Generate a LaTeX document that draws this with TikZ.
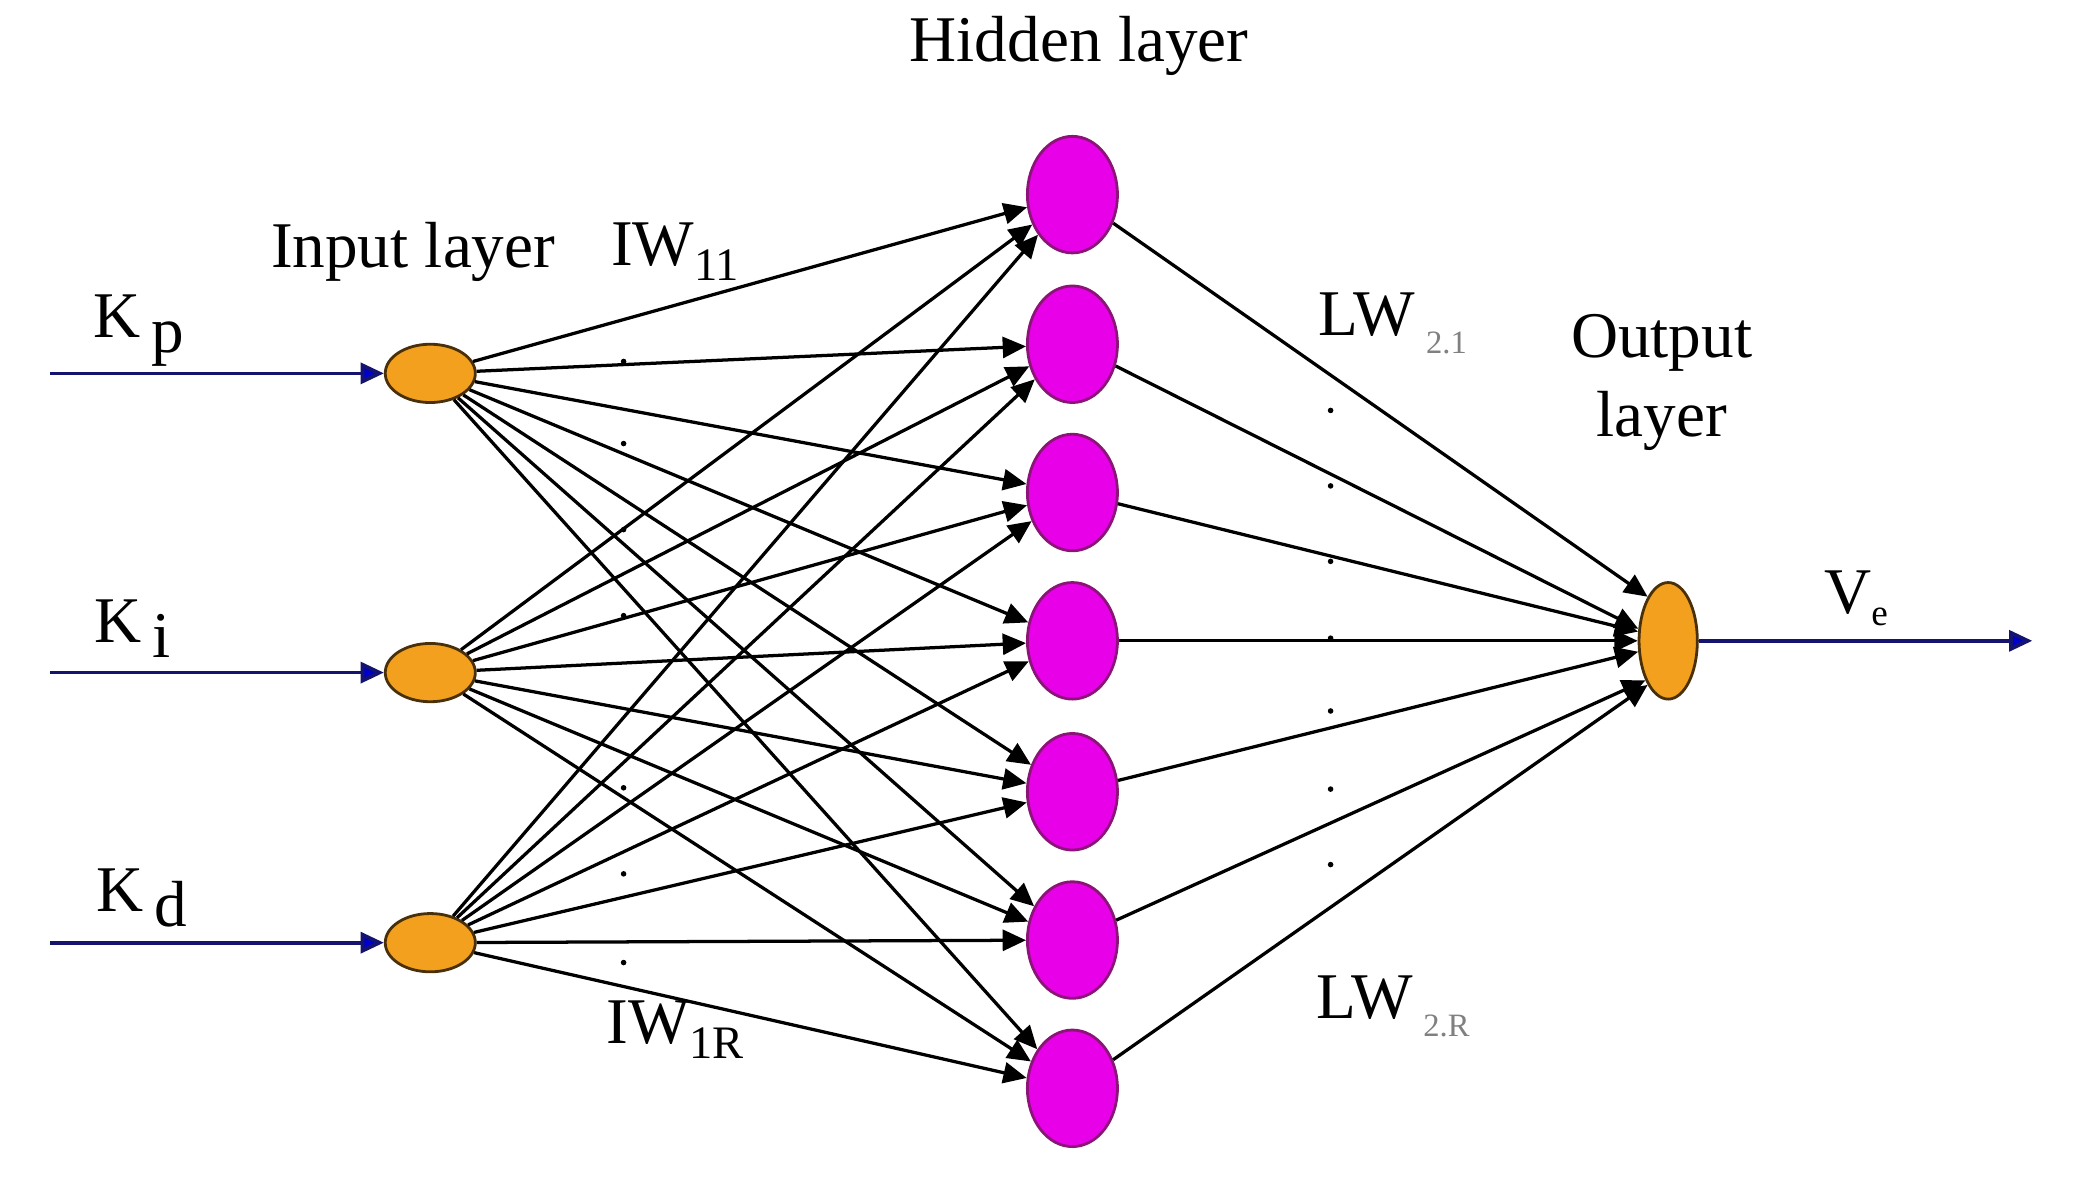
\documentclass[tikz,border=0pt]{standalone}
\usepackage{fontspec}
\setmainfont{Liberation Serif}
\usetikzlibrary{arrows.meta,shapes.geometric}
\definecolor{org}{RGB}{242,160,30}
\definecolor{mag}{RGB}{232,0,232}
\definecolor{magb}{RGB}{140,20,120}
\definecolor{navy}{RGB}{20,20,110}
\begin{document}
\begin{tikzpicture}[x=0.01cm,y=-0.01cm,
  inp/.style={ellipse,draw=black!70!org,fill=org,minimum width=0.68cm,minimum height=0.44cm,inner sep=0pt,line width=0.6pt},
  hid/.style={ellipse,draw=magb,fill=mag,minimum width=0.68cm,minimum height=0.88cm,inner sep=0pt,line width=0.6pt},
  outn/.style={ellipse,draw=black!70!org,fill=org,minimum width=0.44cm,minimum height=0.88cm,inner sep=0pt,line width=0.6pt},
  edge/.style={line width=0.7pt,-{Triangle[length=5pt,width=4.5pt]}},
  inarr/.style={navy,line width=0.8pt,-{Triangle[length=5pt,width=4.5pt,fill=blue!80!black]}},
  lbl/.style={font=\fontsize{14}{17}\selectfont},
  dot/.style={circle,fill=black,inner sep=0pt,minimum size=1.2pt}]
\useasboundingbox (0,0) rectangle (1568,893);
\node[inp] (i1) at (325,282) {};
\node[inp] (i2) at (325,508) {};
\node[inp] (i3) at (325,712) {};
\foreach \n/\y in {1/147,2/260,3/372,4/484,5/598,6/710,7/822}
  \node[hid] (h\n) at (810,\y) {};
\node[outn] (o) at (1260,484) {};
\coordinate (s1) at (38,282);
\coordinate (s2) at (38,508);
\coordinate (s3) at (38,712);
\coordinate (e) at (1535,484);
\foreach \k in {1,2,3} \draw[inarr] (s\k) -- (i\k);
\draw[inarr] (o) -- (e);
\foreach \k in {1,2,3}
  \foreach \n in {1,...,7}
    \draw[edge] (i\k) -- (h\n);
\foreach \n/\a in {1/115,2/158,3/163,4/180,5/200,6/240,7/245}
  \draw[edge] (h\n) -- (o.\a);
\foreach \y [count=\c] in {273,335,400,465,595,660,727}
  \node[dot] (da\c) at (471,\y) {};
\foreach \y [count=\c] in {310,367,424,482,537,596,653}
  \node[dot] (db\c) at (1005,\y) {};
\node[lbl] (t1) at (815,35) {Hidden layer};
\node[lbl] (t2) at (312,190) {Input layer};
\node[lbl,align=center] (t3) at (1255,289) {Output\\layer};
\node[lbl] (kp) at (105,250) {K\,\raisebox{-0.5ex}{p}};
\node[lbl] (ki) at (100,475) {K\,\raisebox{-0.5ex}{i}};
\node[lbl] (kd) at (107,678) {K\,\raisebox{-0.5ex}{d}};
\node[lbl] (ve) at (1402,452) {V\raisebox{-0.4ex}{\fontsize{8}{9}\selectfont e}};
\node[lbl] (w1) at (510,190) {IW\raisebox{-0.5ex}{\fontsize{10}{12}\selectfont 11}};
\node[lbl] (w2) at (510,778) {IW\raisebox{-0.5ex}{\fontsize{10}{12}\selectfont 1R}};
\node[lbl] (l1) at (1052,244) {LW\,\raisebox{-0.6ex}{\textcolor{gray}{\fontsize{7}{8}\selectfont 2.1}}};
\node[lbl] (l2) at (1052,760) {LW\,\raisebox{-0.6ex}{\textcolor{gray}{\fontsize{7}{8}\selectfont 2.R}}};
\end{tikzpicture}
\end{document}
